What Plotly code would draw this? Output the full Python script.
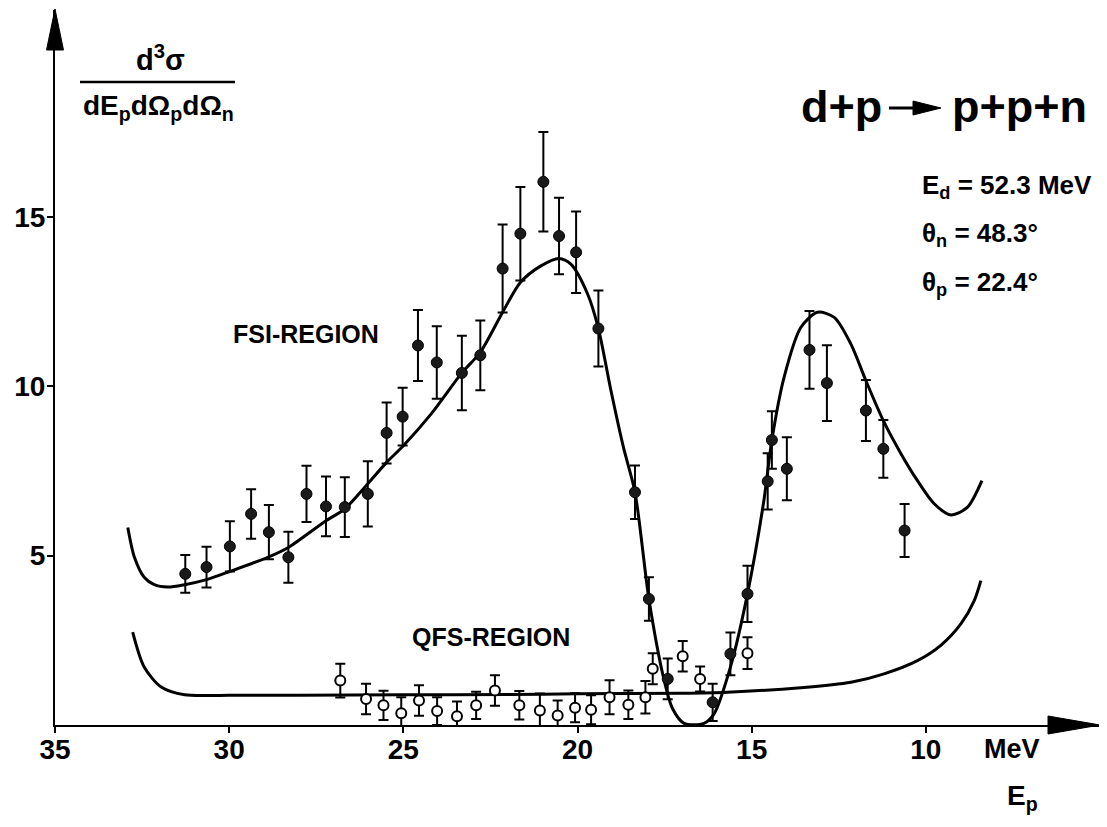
import plotly.graph_objects as go

# ---------------- data ----------------
fsi_E = [31.26, 30.65, 29.98, 29.37, 28.86, 28.30, 27.78, 27.22, 26.68, 26.02,
         25.48, 25.02, 24.58, 24.04, 23.32, 22.79, 22.15, 21.64, 20.98, 20.53,
         20.04, 19.40, 18.35, 17.95, 17.41, 16.12, 15.61, 15.12, 14.54, 14.42,
         13.99, 13.34, 12.84, 11.72, 11.22, 10.61]
fsi_val = [4.46, 4.66, 5.27, 6.23, 5.69, 4.95, 6.82, 6.45, 6.43, 6.82,
           8.62, 9.10, 11.20, 10.70, 10.39, 10.91, 13.47, 14.50, 16.03, 14.43,
           13.95, 11.70, 6.87, 3.72, 1.36, 0.67, 2.10, 3.87, 7.19, 8.41,
           7.56, 11.07, 10.09, 9.28, 8.15, 5.74]
fsi_err = [0.56, 0.60, 0.74, 0.73, 0.80, 0.75, 0.83, 0.88, 0.88, 0.96,
           0.90, 0.85, 1.05, 1.07, 1.10, 1.03, 1.30, 1.38, 1.47, 1.13,
           1.20, 1.12, 0.79, 0.64, 0.60, 0.55, 0.63, 0.83, 0.83, 0.85,
           0.93, 1.15, 1.12, 0.90, 0.85, 0.78]

qfs_E = [26.81, 26.07, 25.57, 25.06, 24.55, 24.03, 23.46, 22.91, 22.37, 21.67,
         21.08, 20.57, 20.07, 19.61, 19.08, 18.54, 18.05, 17.84, 16.98, 16.48, 15.12]
qfs_val = [1.31, 0.77, 0.58, 0.35, 0.72, 0.41, 0.26, 0.58, 1.02, 0.58,
           0.43, 0.28, 0.51, 0.45, 0.82, 0.60, 0.82, 1.66, 2.03, 1.36, 2.12]
qfs_err = [0.50, 0.45, 0.43, 0.47, 0.45, 0.41, 0.43, 0.40, 0.45, 0.42,
           0.50, 0.44, 0.43, 0.43, 0.50, 0.42, 0.48, 0.46, 0.45, 0.37, 0.47]

fsi_curve_E = [32.91, 32.72, 32.44, 32.15, 31.76, 31.28, 30.65, 29.98, 28.89, 28.30,
               27.22, 26.68, 26.02, 25.48, 25.00, 24.20, 23.32, 22.79, 22.15, 21.64,
               21.05, 20.53, 20.19, 19.71, 19.40, 19.04, 18.68, 18.35, 17.95, 17.51,
               17.27, 16.94, 16.37, 16.08, 15.61, 15.12, 14.65, 14.42, 14.07, 13.59,
               13.11, 12.63, 12.15, 11.72, 11.22, 10.71, 10.24, 9.76, 9.28, 8.81, 8.39]
fsi_curve_val = [5.83, 4.95, 4.36, 4.14, 4.07, 4.14, 4.29, 4.53, 4.95, 5.24,
                 6.03, 6.38, 7.12, 7.75, 8.24, 9.18, 10.39, 11.00, 12.18, 13.06,
                 13.55, 13.77, 13.60, 12.72, 11.70, 9.87, 8.19, 6.87, 3.72, 1.31,
                 0.48, 0.05, 0.05, 0.33, 1.71, 3.87, 6.62, 8.41, 10.26, 11.73,
                 12.18, 12.03, 11.24, 10.16, 8.98, 8.00, 7.21, 6.53, 6.20, 6.42, 7.21]

qfs_curve_E = [32.77, 32.44, 31.95, 31.28, 30.0, 28.0, 25.0, 22.0, 20.0, 17.0,
               15.7, 13.59, 12.15, 11.2, 10.24, 9.57, 8.99, 8.61, 8.42]
qfs_curve_val = [2.74, 1.71, 1.12, 0.89, 0.88, 0.88, 0.89, 0.90, 0.92, 0.94,
                 0.97, 1.10, 1.26, 1.51, 1.90, 2.35, 2.99, 3.67, 4.26]

x_ticks = [35, 30, 25, 20, 15, 10]
y_ticks = [5, 10, 15]

# ---------------- layout geometry ----------------
OFF = 8                      # page body margin
W, H = 1099, 819
L, T = 55 - OFF, 10 - OFF
R = W - (1100 - OFF)
B = H - (725 - OFF)
X_RANGE = [35, 5]
Y_RANGE = [0, 21.1]

FONT = "Liberation Sans, Arial, sans-serif"


def px(x):
    return (x - OFF - L) / (W - L - R)


def py(y):
    return (H - B - (y - OFF)) / (H - T - B)


fig = go.Figure()

fig.add_trace(go.Scatter(x=fsi_curve_E, y=fsi_curve_val, mode="lines",
                         line=dict(color="black", width=3, shape="spline", smoothing=0.8),
                         hoverinfo="skip"))
fig.add_trace(go.Scatter(x=qfs_curve_E, y=qfs_curve_val, mode="lines",
                         line=dict(color="black", width=3, shape="spline", smoothing=0.8),
                         hoverinfo="skip"))
fig.add_trace(go.Scatter(x=fsi_E, y=fsi_val, mode="markers",
                         marker=dict(symbol="circle", size=11, color="#1a1a1a",
                                     line=dict(color="black", width=1)),
                         error_y=dict(type="data", array=fsi_err, color="black",
                                      thickness=2, width=5)))
fig.add_trace(go.Scatter(x=qfs_E, y=qfs_val, mode="markers",
                         marker=dict(symbol="circle", size=10, color="white",
                                     line=dict(color="black", width=2)),
                         error_y=dict(type="data", array=qfs_err, color="black",
                                      thickness=2, width=5)))

tickfont = dict(family=FONT, size=28, color="black", weight="bold")

fig.update_layout(
    width=W, height=H,
    margin=dict(l=L, r=R, t=T, b=B, autoexpand=False),
    paper_bgcolor="white", plot_bgcolor="white",
    showlegend=False,
    xaxis=dict(range=X_RANGE, tickvals=x_ticks, ticktext=[str(v) for v in x_ticks],
               showgrid=False, zeroline=False, showline=True, linecolor="black",
               linewidth=2, ticks="outside", ticklen=6, tickwidth=2, tickcolor="black",
               tickfont=tickfont, automargin=False, ticklabelstandoff=-8),
    yaxis=dict(range=Y_RANGE, tickvals=y_ticks, ticktext=[str(v) for v in y_ticks],
               showgrid=False, zeroline=False, showline=True, linecolor="black",
               linewidth=2, ticks="outside", ticklen=6, tickwidth=2, tickcolor="black",
               tickfont=tickfont, automargin=False, ticklabelstandoff=-4),
)

shapes = []
# x-axis arrowhead
shapes.append(dict(type="path", xref="paper", yref="paper",
                   path=f"M {px(1048)} {py(716)} L {px(1100)} {py(725)} L {px(1048)} {py(734)} Z",
                   fillcolor="black", line=dict(color="black", width=1)))
# y-axis arrowhead
shapes.append(dict(type="path", xref="paper", yref="paper",
                   path=f"M {px(46.5)} {py(50)} L {px(55)} {py(9)} L {px(63.5)} {py(50)} Z",
                   fillcolor="black", line=dict(color="black", width=1)))
# fraction bar of y label
shapes.append(dict(type="line", xref="paper", yref="paper",
                   x0=px(80), x1=px(235), y0=py(82), y1=py(82),
                   line=dict(color="black", width=2.5)))
# reaction arrow
shapes.append(dict(type="line", xref="paper", yref="paper",
                   x0=px(889), x1=px(916), y0=py(108), y1=py(108),
                   line=dict(color="black", width=3)))
shapes.append(dict(type="path", xref="paper", yref="paper",
                   path=f"M {px(913)} {py(101)} L {px(941)} {py(108)} L {px(913)} {py(115)} Z",
                   fillcolor="black", line=dict(color="black", width=1)))
fig.update_layout(shapes=shapes)


def ann(text, x, y, size, xanchor="center", yanchor="middle"):
    fig.add_annotation(text=text, x=px(x), y=py(y), xref="paper", yref="paper",
                       showarrow=False, xanchor=xanchor, yanchor=yanchor,
                       font=dict(family=FONT, size=size, color="black", weight="bold"))


ann("d<sup>3</sup>σ", 160, 58, 29)
ann("dE<sub>p</sub>dΩ<sub>p</sub>dΩ<sub>n</sub>", 158, 108, 28)
ann("d+p", 841, 106, 45)
ann("p+p+n", 1019, 106, 45)
ann("E<sub>d</sub> = 52.3 MeV", 920, 186, 26, xanchor="left")
ann("θ<sub>n</sub> = 48.3°", 920, 234, 26, xanchor="left")
ann("θ<sub>p</sub> = 22.4°", 920, 283, 26, xanchor="left")
ann("FSI-REGION", 306, 334, 25)
ann("QFS-REGION", 491, 637, 25)
ann("MeV", 1012, 749, 27)
ann("E<sub>p</sub>", 1022, 797, 28)

fig.write_html("out.html")
